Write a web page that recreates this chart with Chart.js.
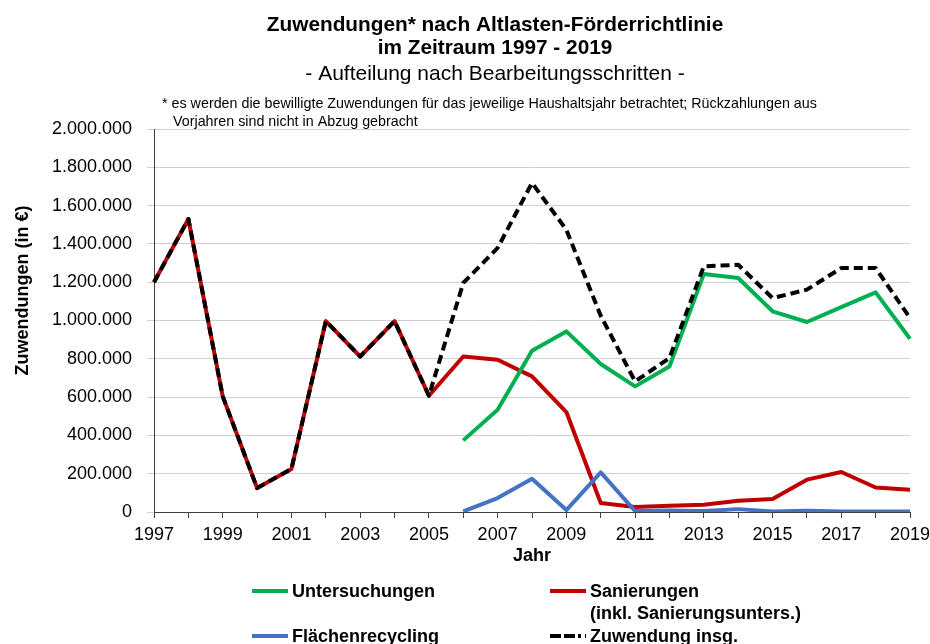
<!DOCTYPE html>
<html><head><meta charset="utf-8">
<script src="https://cdn.jsdelivr.net/npm/chart.js@4.4.1/dist/chart.umd.min.js"></script>
<style>html,body{margin:0;padding:0;background:#fff;}canvas{display:block;}</style>
</head><body>
<canvas id="c" width="930" height="644"></canvas>
<script>
const years = ['1997','1998','1999','2000','2001','2002','2003','2004','2005','2006','2007','2008','2009','2010','2011','2012','2013','2014','2015','2016','2017','2018','2019'];
const untersuchungen = [null,null,null,null,null,null,null,null,null,374000,534000,842000,943000,773000,656000,760000,1243000,1222000,1048000,992000,1070000,1147000,905000];
const sanierungen = [1200000,1530000,604000,125000,225000,997000,812000,997000,607000,812000,795000,708000,522000,47000,26000,33000,38000,59000,68000,169000,209000,128000,116000];
const flaechenrecycling = [null,null,null,null,null,null,null,null,null,3000,73000,174000,10000,207000,5000,8000,5000,15000,3000,7000,2000,2000,2000];
const zuwendungInsg = [1200000,1530000,604000,125000,225000,997000,812000,997000,607000,1196000,1379000,1718000,1474000,1025000,682000,804000,1283000,1291000,1117000,1161000,1274000,1274000,1013000];
const yTicksMax = 2000000, yTicksStep = 200000;

const FONT = "'Liberation Sans', Arial, sans-serif";
const titleLines = ['Zuwendungen* nach Altlasten-Förderrichtlinie', 'im Zeitraum 1997 - 2019'];
const subtitleText = '- Aufteilung nach Bearbeitungsschritten -';
const footnoteLines = ['* es werden die bewilligte Zuwendungen für das jeweilige Haushaltsjahr betrachtet; Rückzahlungen aus', 'Vorjahren sind nicht in Abzug gebracht'];
const yTitle = 'Zuwendungen (in €)';

function fmt(v){ return String(Math.round(v)).replace(/\B(?=(\d{3})+(?!\d))/g, '.'); }

const extras = {
  id: 'extras',
  afterDraw(chart){
    const ctx = chart.ctx;
    const ca = chart.chartArea;
    ctx.save();
    ctx.fillStyle = '#000';
    ctx.textBaseline = 'alphabetic';
    // title + subtitle
    ctx.textAlign = 'center';
    ctx.font = 'bold 20.8px ' + FONT;
    ctx.fillText(titleLines[0], 495, 31);
    ctx.fillText(titleLines[1], 495, 54);
    ctx.font = '21px ' + FONT;
    ctx.fillText(subtitleText, 495, 80);
    // footnote
    ctx.textAlign = 'left';
    ctx.font = '14.3px ' + FONT;
    ctx.fillText(footnoteLines[0], 162, 108);
    ctx.fillText(footnoteLines[1], 173, 126);
    // y title
    ctx.save();
    ctx.translate(28, (ca.top + ca.bottom) / 2 - 30);
    ctx.rotate(-Math.PI / 2);
    ctx.font = 'bold 18px ' + FONT;
    ctx.textAlign = 'center';
    ctx.fillText(yTitle, 0, 0);
    ctx.restore();
    // legend
    const ds = chart.data.datasets;
    const items = [
      {d: ds[0], x: 252, y: 591},
      {d: ds[1], x: 550, y: 591},
      {d: ds[2], x: 252, y: 636},
      {d: ds[3], x: 550, y: 636}
    ];
    ctx.font = 'bold 18px ' + FONT;
    items.forEach(it => {
      ctx.save();
      ctx.strokeStyle = it.d.borderColor;
      ctx.lineWidth = 4;
      ctx.lineCap = 'butt';
      if (it.d.borderDash && it.d.borderDash.length) ctx.setLineDash([11,3,11,3,3,4]);
      ctx.beginPath();
      ctx.moveTo(it.x, it.y);
      ctx.lineTo(it.x + 36, it.y);
      ctx.stroke();
      ctx.restore();
      ctx.fillStyle = '#000';
      ctx.textAlign = 'left';
      ctx.textBaseline = 'middle';
      const lines = String(it.d.label).split('\n');
      lines.forEach((ln, i) => ctx.fillText(ln, it.x + 40, it.y + 1 + i * 22));
    });
    ctx.restore();
  }
};

new Chart(document.getElementById('c'), {
  type: 'line',
  data: {
    labels: years,
    datasets: [
      {label: 'Untersuchungen', data: untersuchungen, borderColor: '#00b050', backgroundColor: '#00b050', borderWidth: 4, pointRadius: 0, order: 2},
      {label: 'Sanierungen\n(inkl. Sanierungsunters.)', data: sanierungen, borderColor: '#c00000', backgroundColor: '#c00000', borderWidth: 4, pointRadius: 0, order: 3},
      {label: 'Flächenrecycling', data: flaechenrecycling, borderColor: '#4472c4', backgroundColor: '#4472c4', borderWidth: 4, pointRadius: 0, order: 1},
      {label: 'Zuwendung insg.', data: zuwendungInsg, borderColor: '#000000', backgroundColor: '#000000', borderWidth: 4, borderDash: [9,5], pointRadius: 0, order: 0}
    ]
  },
  options: {
    responsive: false,
    animation: false,
    devicePixelRatio: 1,
    spanGaps: false,
    layout: {padding: {left: 22, right: 20, top: 129, bottom: 72}},
    elements: {line: {tension: 0, borderJoinStyle: 'round'}},
    plugins: {
      legend: {display: false},
      tooltip: {enabled: false},
      title: {display: false},
      subtitle: {display: false}
    },
    scales: {
      x: {
        type: 'category',
        offset: false,
        border: {color: '#404040', width: 1},
        grid: {display: true, drawOnChartArea: false, drawTicks: true, tickLength: 6, tickColor: '#404040'},
        ticks: {autoSkip: false, maxRotation: 0, color: '#000', padding: 6, font: {family: FONT, size: 18},
          callback: function(v, i){ const y = years[i]; return (parseInt(y) % 2 === 1) ? y : ''; }},
        title: {display: true, text: 'Jahr', color: '#000', font: {family: FONT, size: 18, weight: 'bold'}, padding: {top: 0, bottom: 4.7}},
        afterFit: function(s){ s.height = 60; s.paddingRight = 20; s.paddingLeft = 0; }
      },
      y: {
        min: 0, max: yTicksMax,
        border: {color: '#404040', width: 1},
        grid: {color: '#d0d0d0', lineWidth: 1, tickLength: 7, tickColor: '#d0d0d0'},
        ticks: {stepSize: yTicksStep, color: '#000', padding: 15, font: {family: FONT, size: 18}, callback: v => fmt(v)},
        afterFit: function(s){ s.width = 132; }
      }
    }
  },
  plugins: [extras]
});
</script>
</body></html>
